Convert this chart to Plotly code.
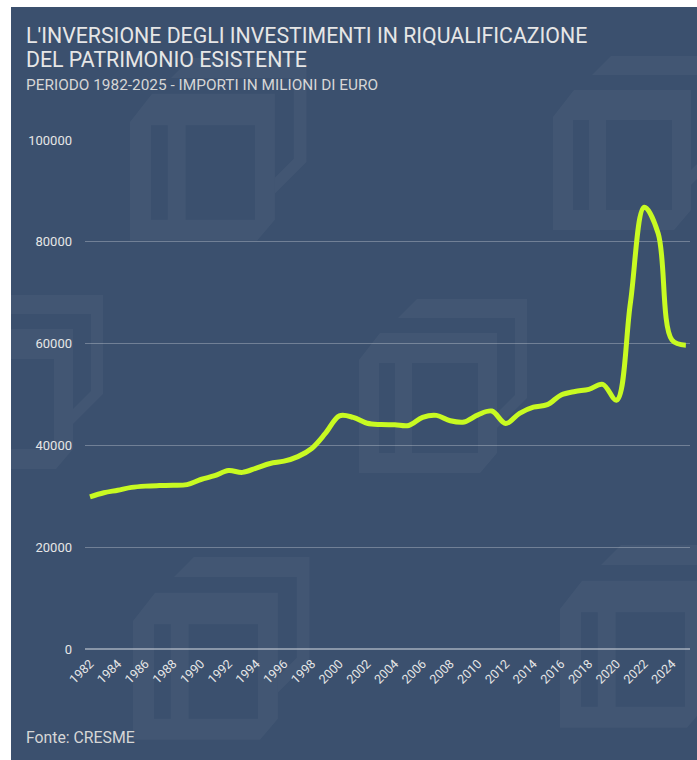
import plotly.graph_objects as go

years = list(range(1982, 2026))
values = [29900, 30700, 31200, 31750, 32000, 32100, 32150, 32300, 33300, 34050,
          35050, 34700, 35550, 36450, 36900, 37800, 39400, 42400, 45800, 45500,
          44350, 44100, 44050, 43900, 45500, 45900, 44850, 44600, 46000, 46750,
          44300, 46300, 47500, 48000, 49900, 50600, 51000, 52000, 48900, 68000,
          86800, 81700, 60700, 59700]
x_ticks = list(range(1982, 2025, 2))
y_ticks = [0, 20000, 40000, 60000, 80000, 100000]

title_lines = ["L'INVERSIONE DEGLI INVESTIMENTI IN RIQUALIFICAZIONE", "DEL PATRIMONIO ESISTENTE"]
subtitle_text = "PERIODO 1982-2025 - IMPORTI IN MILIONI DI EURO"
source_text = "Fonte: CRESME"

FW, FH = 697, 760
L, R, T, B = 85, 690, 140, 649
PW, PH = R - L, B - T


def px(x):
    return (x - L) / PW


def py(y):
    return (B - y) / PH


BG = "#3b506e"
FONT = "Roboto, 'Noto Sans', sans-serif"

shapes = [dict(type="rect", xref="paper", yref="paper", x0=px(11), x1=px(700),
               y0=py(7), y1=py(765), fillcolor=BG, line=dict(width=0), layer="below")]

# decorative watermark logos (local pixel geometry)
front_outer = [(0, 61), (21, 34), (138, 34), (138, 154), (121, 174), (0, 174)]
hole1 = [(20, 64), (36, 64), (36, 154), (20, 154)]
hole2 = [(53, 64), (119, 64), (119, 154), (53, 154)]
back_l = [(58, 0), (168, 0), (168, 99), (138, 129), (138, 114), (156, 96), (156, 19), (39, 19)]


def poly(pts, ox, oy, s):
    segs = []
    for i, (a, b) in enumerate(pts):
        X = px(ox + a * s)
        Y = py(oy + b * s)
        segs.append(("M" if i == 0 else "L") + f"{X:.5f},{Y:.5f}")
    return " ".join(segs) + " Z"


logos = [(130, 58, 1.05), (553, 56, 1.0), (-65, 295, 1.0), (359, 299, 1.0),
         (133, 557, 1.05), (560, 545, 1.05)]
WM = "rgba(255,255,255,0.04)"
for ox, oy, s in logos:
    path = poly(front_outer, ox, oy, s) + " " + poly(hole1, ox, oy, s) + " " + poly(hole2, ox, oy, s)
    shapes.append(dict(type="path", xref="paper", yref="paper", path=path,
                       fillcolor=WM, line=dict(width=0),
                       layer="below", fillrule="evenodd"))
    shapes.append(dict(type="path", xref="paper", yref="paper", path=poly(back_l, ox, oy, s),
                       fillcolor=WM, line=dict(width=0), layer="below"))

fig = go.Figure()
fig.add_trace(go.Scatter(x=years, y=values, mode="lines",
                         line=dict(color="#c8fa22", width=5, shape="spline", smoothing=1.0),
                         hoverinfo="x+y", showlegend=False))

annotations = [
    dict(text=title_lines[0], xref="paper", yref="paper", x=px(24), y=py(35), xanchor="left",
         yanchor="middle", showarrow=False, align="left",
         font=dict(family=FONT, size=21.3, color="#e6e6e6")),
    dict(text=title_lines[1], xref="paper", yref="paper", x=px(24), y=py(60), xanchor="left",
         yanchor="middle", showarrow=False, align="left",
         font=dict(family=FONT, size=21.3, color="#e6e6e6")),
    dict(text=subtitle_text, xref="paper", yref="paper", x=px(24), y=py(85), xanchor="left",
         yanchor="middle", showarrow=False, align="left",
         font=dict(family=FONT, size=15.4, color="#d6d6d6")),
    dict(text=source_text, xref="paper", yref="paper", x=px(24), y=py(737), xanchor="left",
         yanchor="middle", showarrow=False, align="left",
         font=dict(family=FONT, size=15.8, color="#d6d6d6")),
]

fig.update_layout(
    width=FW, height=FH,
    margin=dict(l=L, r=FW - R, t=T, b=FH - B, pad=0),
    paper_bgcolor="white", plot_bgcolor="rgba(0,0,0,0)",
    font=dict(family=FONT, color="#e6e6e6"),
    shapes=shapes, annotations=annotations,
    xaxis=dict(range=[1981.64, 2025.3], tickmode="array", tickvals=x_ticks,
               ticktext=[str(v) for v in x_ticks], tickangle=-45, showgrid=False,
               zeroline=False, showline=False, ticks="", ticklabelstandoff=4,
               tickfont=dict(size=12.5, color="#e6e6e6", family=FONT)),
    yaxis=dict(range=[0, 100000], tickmode="array", tickvals=y_ticks,
               ticktext=[str(v) for v in y_ticks], showgrid=True,
               gridcolor="rgba(255,255,255,0.28)", gridwidth=1,
               zeroline=True, zerolinecolor="rgba(255,255,255,0.4)", zerolinewidth=2,
               showline=False, ticks="", ticklabelstandoff=12,
               tickfont=dict(size=13, color="#e6e6e6", family=FONT)),
)

fig.write_html("out.html")
